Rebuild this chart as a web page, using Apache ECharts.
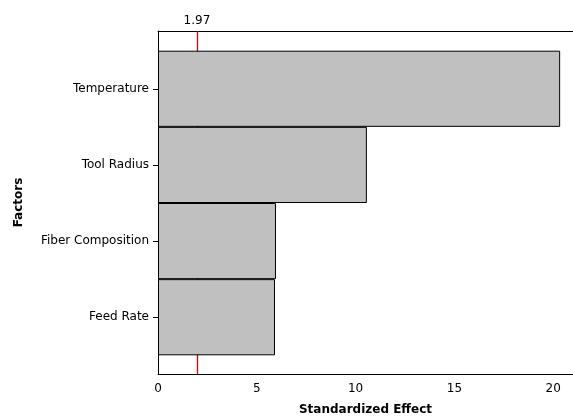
<!DOCTYPE html>
<html><head><meta charset="utf-8">
<script src="https://cdn.jsdelivr.net/npm/echarts@6/dist/echarts.min.js"></script>
<style>html,body{margin:0;padding:0;background:#fff}#c{width:573px;height:417px}</style>
</head><body><div id="c"></div>
<script>
const factors = ['Temperature', 'Tool Radius', 'Fiber Composition', 'Feed Rate'];
const effects = [20.35, 10.57, 5.97, 5.92];
const refValue = 1.97;
const xTicks = [0, 5, 10, 15, 20];

const font = 'DejaVu Sans';
const fs = 12;
const chart = echarts.init(document.getElementById('c'), null, {renderer: 'canvas'});
chart.setOption({
  animation: false,
  backgroundColor: '#fff',
  textStyle: {fontFamily: font},
  grid: [
    {left: 158, right: 0, top: 31, bottom: 43, outerBoundsMode: 'none', containLabel: false},
    {left: 158, right: 0, top: 50.7, bottom: 61.7, outerBoundsMode: 'none', containLabel: false}
  ],
  xAxis: [
    {gridIndex: 0, type: 'value', min: 0, max: 21, interval: 5, position: 'bottom',
     axisLine: {show: true, lineStyle: {color: '#000', width: 1}},
     axisTick: {show: false}, splitLine: {show: false},
     axisLabel: {color: '#000', fontSize: fs, fontFamily: font, margin: 9,
       formatter: v => xTicks.includes(v) ? String(v) : ''},
     name: 'Standardized Effect', nameLocation: 'middle', nameGap: 30,
     nameTextStyle: {color: '#000', fontWeight: 'bold', fontSize: fs, fontFamily: font}},
    {gridIndex: 0, type: 'value', min: 0, max: 21, position: 'top',
     axisLine: {show: true, lineStyle: {color: '#000', width: 1}},
     axisTick: {show: false}, axisLabel: {show: false}, splitLine: {show: false}},
    {gridIndex: 1, type: 'value', min: 0, max: 21, show: false, splitLine: {show: false}}
  ],
  yAxis: [
    {gridIndex: 0, type: 'value', min: 0, max: 1,
     axisLine: {show: true, lineStyle: {color: '#000', width: 1}},
     axisTick: {show: false}, axisLabel: {show: false}, splitLine: {show: false},
     name: 'Factors', nameLocation: 'middle', nameGap: 133, nameRotate: 90,
     nameTextStyle: {color: '#000', fontWeight: 'bold', fontSize: fs, fontFamily: font}},
    {gridIndex: 1, type: 'category', data: factors, inverse: true,
     axisLine: {show: false},
     axisTick: {show: true, alignWithLabel: true, length: 5, lineStyle: {color: '#000'}},
     axisLabel: {color: '#000', fontSize: fs, fontFamily: font, margin: 9},
     splitLine: {show: false}}
  ],
  series: [
    {type: 'line', xAxisIndex: 0, yAxisIndex: 0, data: [], z: 1,
     markLine: {symbol: 'none', silent: true, z: 1,
       lineStyle: {color: '#e00000', width: 1.3, type: 'solid', opacity: 1},
       label: {show: true, position: 'end', distance: 4, color: '#000', fontSize: fs, fontFamily: font,
         formatter: String(refValue)},
       data: [{xAxis: refValue}]}},
    {type: 'bar', xAxisIndex: 2, yAxisIndex: 1, data: effects, z: 5,
     barCategoryGap: 0,
     itemStyle: {color: '#c0c0c0', borderColor: '#000', borderWidth: 1}}
  ]
});
</script></body></html>
